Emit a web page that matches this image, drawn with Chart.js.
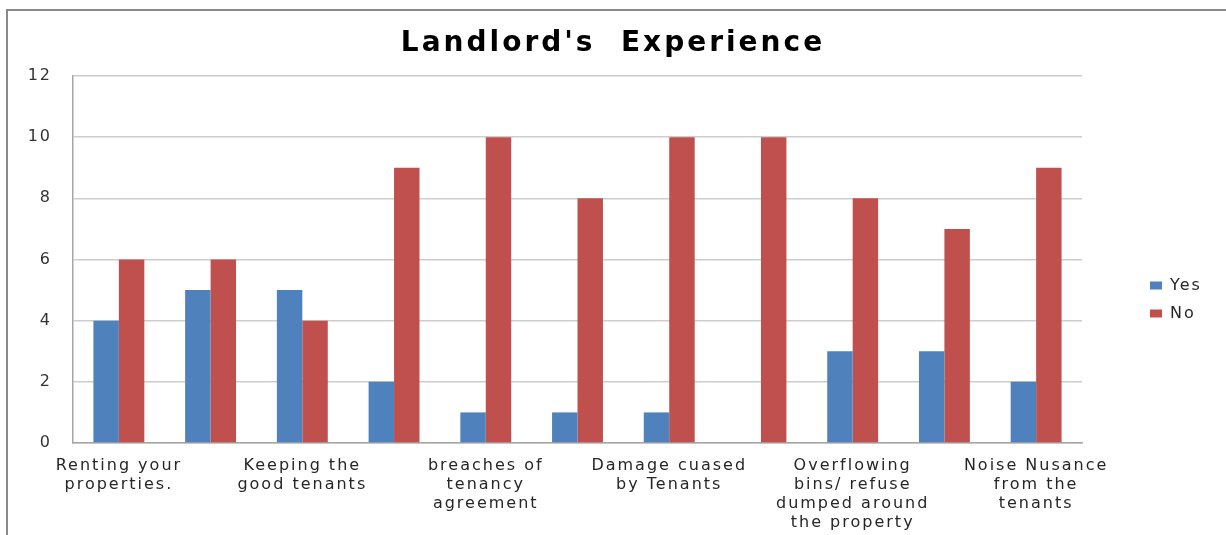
<!DOCTYPE html>
<html>
<head>
<meta charset="utf-8">
<script src="https://cdn.jsdelivr.net/npm/chart.js@4.4.0/dist/chart.umd.min.js"></script>
<style>
  html, body { margin: 0; padding: 0; background: #fff; }
  canvas { display: block; }
</style>
</head>
<body>
<canvas id="chart" width="1226" height="535"></canvas>
<script>
// every second group carries a label, the rest are left blank on the axis
const categories = [
  ['Renting your', 'properties.'], '',
  ['Keeping the', 'good tenants'], '',
  ['breaches of', 'tenancy', 'agreement'], '',
  ['Damage cuased', 'by Tenants'], '',
  ['Overflowing', 'bins/ refuse', 'dumped around', 'the property'], '',
  ['Noise Nusance', 'from the', 'tenants']
];
const yesValues = [4, 5, 5, 2, 1, 1, 1, 0, 3, 3, 2];
const noValues = [6, 6, 4, 9, 10, 8, 10, 10, 8, 7, 9];
const yTicks = [0, 2, 4, 6, 8, 10, 12];

const FONT = 'DejaVu Sans';
const TEXT_SPACING = '2px';
const TITLE_SPACING = '3px';
const LEGEND_DX = 56;
const LEGEND_DY = 32;

// wide lettering for ticks/legend, wider still for the title, legend pushed to the right
const layoutTweaks = {
  id: 'layoutTweaks',
  afterInit(chart) {
    const title = chart.titleBlock;
    const drawTitle = title.draw;
    title.draw = function () {
      this.ctx.save();
      this.ctx.letterSpacing = TITLE_SPACING;
      drawTitle.apply(this, arguments);
      this.ctx.restore();
    };
    const legend = chart.legend;
    const fitLegend = legend.fit;
    legend.fit = function () {
      fitLegend.apply(this, arguments);
      this.width = 144;
    };
    const drawLegend = legend.draw;
    legend.draw = function () {
      this.ctx.save();
      this.ctx.translate(LEGEND_DX, LEGEND_DY);
      drawLegend.apply(this, arguments);
      this.ctx.restore();
    };
  },
  beforeUpdate(chart) { chart.ctx.letterSpacing = TEXT_SPACING; },
  beforeDraw(chart) {
    const ctx = chart.ctx;
    ctx.letterSpacing = TEXT_SPACING;
    // outer frame: left and top edges only
    ctx.save();
    ctx.strokeStyle = '#8a8a8a';
    ctx.lineWidth = 2;
    ctx.beginPath();
    ctx.moveTo(7, chart.height);
    ctx.lineTo(7, 10);
    ctx.lineTo(chart.width, 10);
    ctx.stroke();
    ctx.restore();
  }
};

new Chart(document.getElementById('chart'), {
  type: 'bar',
  data: {
    labels: categories,
    datasets: [
      { label: 'Yes', data: yesValues, backgroundColor: '#4F81BD',
        barPercentage: 1, categoryPercentage: 0.555 },
      { label: 'No', data: noValues, backgroundColor: '#C0504D',
        barPercentage: 1, categoryPercentage: 0.555 }
    ]
  },
  options: {
    responsive: false,
    animation: false,
    devicePixelRatio: 1,
    layout: { padding: 0 },
    scales: {
      x: {
        grid: { display: false, drawTicks: false },
        border: { color: '#a6a6a6', width: 1.5 },
        ticks: {
          autoSkip: false,
          maxRotation: 0,
          padding: 13,
          color: '#262626',
          font: { family: FONT, size: 16, lineHeight: 1.2 }
        },
        afterFit(scale) { scale.height = 92; }
      },
      y: {
        min: 0,
        max: 12,
        afterBuildTicks(scale) { scale.ticks = yTicks.map(v => ({ value: v })); },
        grid: { color: '#cdcdcd', lineWidth: 1.5, drawTicks: false },
        border: { color: '#a6a6a6', width: 1.5 },
        ticks: {
          padding: 21,
          color: '#333333',
          font: { family: FONT, size: 16 }
        },
        afterFit(scale) { scale.width = 73; }
      }
    },
    plugins: {
      title: {
        display: true,
        text: "Landlord's  Experience",
        color: '#000000',
        font: { family: FONT, size: 28, weight: 'bold', lineHeight: 1.2 },
        padding: { top: 27, bottom: 15.4 }
      },
      legend: {
        display: true,
        position: 'right',
        labels: {
          boxWidth: 12,
          boxHeight: 8,
          padding: 12,
          color: '#262626',
          font: { family: FONT, size: 16 }
        }
      },
      tooltip: { enabled: false }
    }
  },
  plugins: [layoutTweaks]
});
</script>
</body>
</html>
